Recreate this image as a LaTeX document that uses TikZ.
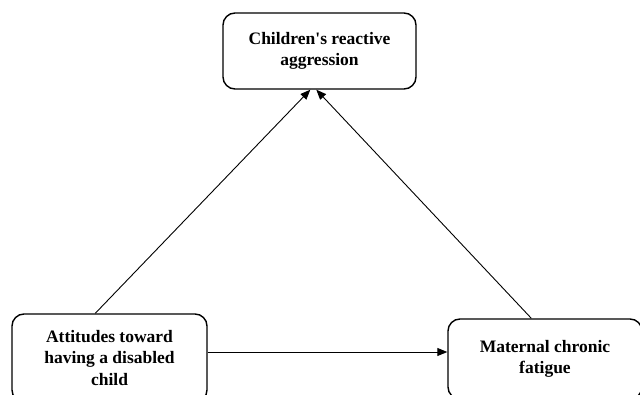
\documentclass[tikz,border=0pt]{standalone}
\usepackage{fontspec}
\setmainfont{Liberation Serif}
\usetikzlibrary{arrows.meta,calc}
\begin{document}
\begin{tikzpicture}[x=1pt,y=1pt,
  box/.style={draw, line width=1.4pt, rounded corners=12pt, align=center,
    font=\fontsize{17.5}{21.5}\selectfont\bfseries, inner sep=0pt},
  conn/.style={line width=0.9pt, -{Triangle[length=10pt,width=8pt]}}]
\useasboundingbox (0,0) rectangle (640,394);
\fill[white] (0,0) rectangle (640,394);
\begin{scope}
\clip (0,0) rectangle (640,394);
\node[box, minimum width=193pt, minimum height=76pt] (T) at (319.5,343) {Children\textquotesingle s reactive\\aggression};
\node[box, minimum width=195pt, minimum height=88pt] (L) at (109.5,36) {Attitudes toward\\having a disabled\\child};
\node[box, minimum width=194pt, minimum height=80pt] (R) at (545,35) {Maternal chronic\\fatigue};
\end{scope}
\draw[conn] ($(L.north west)+(84,0)$) -- ($(T.south west)+(88,0)$);
\draw[conn] ($(R.north west)+(84,0)$) -- ($(T.south west)+(94,0)$);
\draw[conn] (L.east |- 0,42) -- (R.west |- 0,42);
\end{tikzpicture}
\end{document}
